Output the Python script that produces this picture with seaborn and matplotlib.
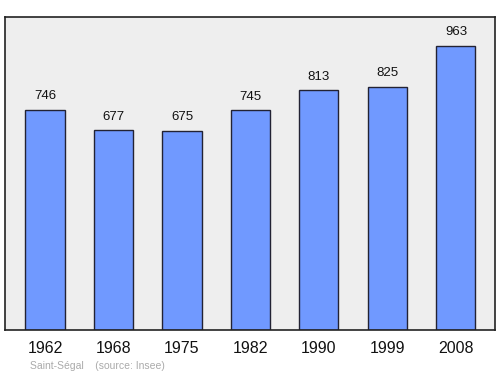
import matplotlib
matplotlib.use("Agg")
import matplotlib.pyplot as plt
import seaborn as sns
import pandas as pd

years = ["1962", "1968", "1975", "1982", "1990", "1999", "2008"]
population = [746, 677, 675, 745, 813, 825, 963]

sns.set_theme(style="white")
plt.rcParams['font.family'] = ['Liberation Sans', 'DejaVu Sans']

df = pd.DataFrame({"year": years, "pop": population})

fig = plt.figure(figsize=(5, 3.74), dpi=100)
ax = fig.add_axes([0.01, 0.1176, 0.98, 0.837])
ax.set_facecolor("#eeeeee")

sns.barplot(data=df, x="year", y="pop", ax=ax, color="#7099ff", saturation=1,
            width=0.57, edgecolor="#222233", linewidth=1)

for i, v in enumerate(population):
    ax.annotate(str(v), (i, v), xytext=(0, 5.5), textcoords="offset points",
                ha="center", va="bottom", fontsize=9.5, color="#111111")

ax.set_xlim(-0.584, 6.57)
ax.set_ylim(0, 1061)
ax.set_xlabel("")
ax.set_ylabel("")
ax.set_yticks([])
ax.tick_params(axis="x", length=0, labelsize=11.5, pad=8, colors="#111111")
for s in ax.spines.values():
    s.set_color("#222222")
    s.set_linewidth(1.2)
    s.set_visible(True)

fig.text(30 / 500, 1 - 366 / 374, "Saint-Ségal    (source: Insee)", fontsize=7.5,
         color="#aaaaaa", ha="left", va="center")

fig.savefig("out.png", dpi=100)
